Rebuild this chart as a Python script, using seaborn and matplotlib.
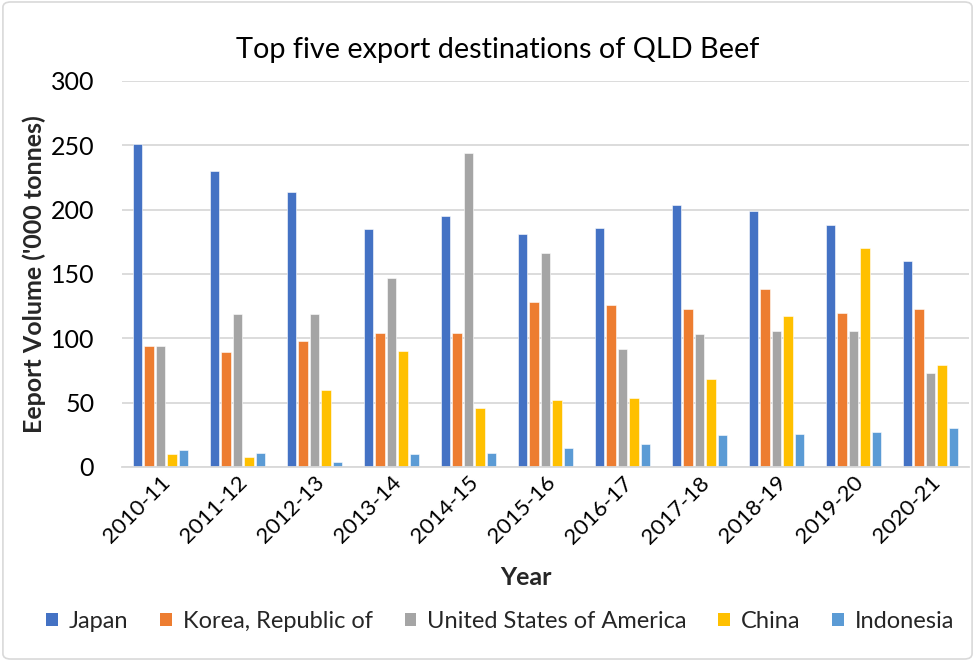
import matplotlib
matplotlib.use("Agg")
import matplotlib.pyplot as plt
from matplotlib.patches import FancyBboxPatch, Patch
import pandas as pd
import seaborn as sns

# Financial years
years = ["2010-11", "2011-12", "2012-13", "2013-14", "2014-15", "2015-16",
         "2016-17", "2017-18", "2018-19", "2019-20", "2020-21"]

# Export volume ('000 tonnes) by destination
japan = [251, 230, 214, 185, 195, 181, 186, 204, 199, 188, 160]
korea = [94, 89, 98, 104, 104, 128, 126, 123, 138, 120, 123]
usa = [94, 119, 119, 147, 244, 166, 92, 103, 106, 106, 73]
china = [10, 8, 60, 90, 46, 52, 54, 68, 117, 170, 79]
indonesia = [13, 11, 4, 10, 11, 15, 18, 25, 26, 27, 30]

destinations = ["Japan", "Korea, Republic of", "United States of America",
                "China", "Indonesia"]
colors = ["#4472C4", "#ED7D31", "#A5A5A5", "#FFC000", "#5B9BD5"]

series = [japan, korea, usa, china, indonesia]
df = pd.DataFrame({
    "Year": [y for _ in destinations for y in years],
    "Destination": [d for d in destinations for _ in years],
    "Volume": [v for s in series for v in s],
})

sns.set_theme(style="white")
plt.rcParams["font.family"] = ["Lato", "DejaVu Sans"]

fig = plt.figure(figsize=(9.75, 6.61), dpi=100)
ax = fig.add_axes([0.1251, 0.2935, 0.8687, 0.584])

sns.barplot(data=df, x="Year", y="Volume", hue="Destination",
            hue_order=destinations, palette=colors, saturation=1,
            width=0.74, gap=0.18, edgecolor="white", linewidth=0.4,
            ax=ax, legend=False)

ax.set_ylim(0, 300)
ax.set_xlim(-0.5, len(years) - 0.5)
ax.set_yticks(range(0, 301, 50))
ax.yaxis.grid(True, color="#d9d9d9", linewidth=1.3)
ax.set_axisbelow(True)
for side in ["top", "right", "left"]:
    ax.spines[side].set_visible(False)
ax.spines["bottom"].set_color("#d9d9d9")
ax.spines["bottom"].set_linewidth(1.3)
ax.tick_params(axis="y", length=0, labelsize=18, colors="#000000", pad=20)
ax.tick_params(axis="x", length=0, labelsize=16, colors="#000000", pad=4)
plt.setp(ax.get_xticklabels(), rotation=45, ha="right", rotation_mode="anchor")

ax.set_xlabel("Year", fontsize=18, fontweight="bold")
ax.xaxis.set_label_coords(0.477, -0.257)
ax.set_ylabel("Eeport Volume ('000 tonnes)", fontsize=18, fontweight="bold")
ax.yaxis.set_label_coords(-0.09, 0.5)

fig.text(0.51, 0.924, "Top five export destinations of QLD Beef",
         ha="center", va="center", fontsize=20.8, color="#000000")

handles = [Patch(facecolor=c, edgecolor="none") for c in colors]
fig.legend(handles, destinations, loc="center", ncol=5,
           bbox_to_anchor=(0.513, 0.06), frameon=False, fontsize=17,
           handlelength=0.5, handleheight=0.5, handletextpad=0.45,
           columnspacing=1.35)

# Chart-area border
border = FancyBboxPatch((0.003, 0.003), 0.994, 0.994,
                        boxstyle="round,pad=0,rounding_size=0.008",
                        transform=fig.transFigure, facecolor="none",
                        edgecolor="#d9d9d9", linewidth=1.2)
fig.patches.append(border)

fig.savefig("out.png", dpi=100)
